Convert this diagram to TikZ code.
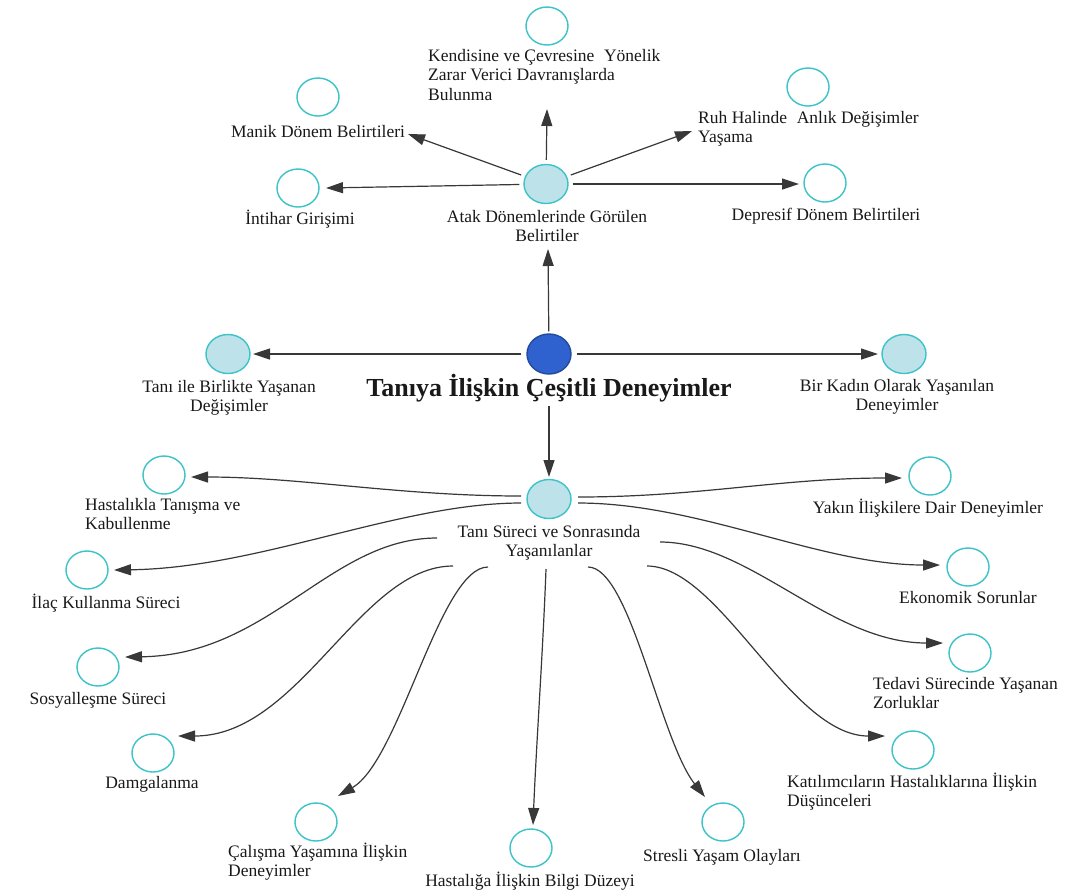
\documentclass[tikz,border=0pt]{standalone}
\usepackage{fontspec}
\setmainfont{Liberation Serif}
\usetikzlibrary{arrows.meta,shapes.geometric}
\definecolor{cyanline}{HTML}{3CC3C8}
\definecolor{lightfill}{HTML}{BEE2EA}
\definecolor{darkfill}{HTML}{2F62CF}
\definecolor{arrowgray}{HTML}{383838}
\newcommand\Lstrut{\rule{0pt}{15pt}}
\newcommand\dsp{\hspace{0.3em}}
\begin{document}
\begin{tikzpicture}[x=1pt,y=-1pt,
  leaf/.style={ellipse, draw=cyanline, line width=1.4pt, fill=white, minimum width=42pt, minimum height=38pt, inner sep=0pt},
  hub/.style={leaf, fill=lightfill, minimum width=44pt, minimum height=39pt},
  core/.style={leaf, fill=darkfill, draw=darkfill!75!black, minimum width=44pt, minimum height=40pt},
  lbl/.style={inner sep=0pt, font=\fontsize{17.5}{19.5}\selectfont, text=black!90, align=center, anchor=north},
  lbll/.style={lbl, align=left, anchor=north west},
  arr/.style={draw=arrowgray, line width=1.2pt, -{Triangle[length=17pt,width=11pt]}},
]
\useasboundingbox[fill=white] (0,0) rectangle (1075,895);

% ---------- circles ----------
\node[core] (C) at (549,354) {};
\node[hub] (A) at (546,184) {};
\node[hub] (TI) at (228,354) {};
\node[hub] (BK) at (904,354) {};
\node[hub] (T) at (549,499) {};

\node[leaf] (K) at (547,26) {};
\node[leaf] (MAN) at (318,97) {};
\node[leaf] (INT) at (298,188) {};
\node[leaf] (RUH) at (808,87) {};
\node[leaf] (DEP) at (825,183) {};

\node[leaf] (HK) at (164,475) {};
\node[leaf] (ILC) at (87,570) {};
\node[leaf] (SOS) at (98,667) {};
\node[leaf] (DAM) at (153,753) {};
\node[leaf] (CAL) at (316,822) {};
\node[leaf] (HSG) at (531,848) {};
\node[leaf] (STR) at (723,822) {};
\node[leaf] (KAT) at (913,750) {};
\node[leaf] (TED) at (970,653) {};
\node[leaf] (EKO) at (968,567) {};
\node[leaf] (YAK) at (930,476) {};

% ---------- labels ----------
\node[lbl, font=\fontsize{26}{29}\selectfont\bfseries, anchor=base] (Clab) at (549,396) {Tanıya İlişkin Çeşitli Deneyimler};
\node[lbl] (Alab) at (547,207) {\Lstrut Atak Dönemlerinde Görülen\\Belirtiler};
\node[lbll] (Klab) at (428,46) {\Lstrut Kendisine ve Çevresine\dsp{} Yönelik\\Zarar Verici Davranışlarda\\Bulunma};
\node[lbl] (MANlab) at (318,122) {\Lstrut Manik Dönem Belirtileri};
\node[lbl] (INTlab) at (300,209) {\Lstrut İntihar Girişimi};
\node[lbll] (RUHlab) at (698,108) {\Lstrut Ruh Halinde\dsp{} Anlık Değişimler\\Yaşama};
\node[lbl] (DEPlab) at (826,205) {\Lstrut Depresif Dönem Belirtileri};
\node[lbl] (TIlab) at (229,377) {\Lstrut Tanı ile Birlikte Yaşanan\\Değişimler};
\node[lbl] (BKlab) at (897,376) {\Lstrut Bir Kadın Olarak Yaşanılan\\Deneyimler};
\node[lbl] (Tlab) at (549,522) {\Lstrut Tanı Süreci ve Sonrasında\\Yaşanılanlar};
\node[lbll] (HKlab) at (85,495) {\Lstrut Hastalıkla Tanışma ve\\Kabullenme};
\node[lbl] (ILClab) at (106,593) {\Lstrut İlaç Kullanma Süreci};
\node[lbl] (SOSlab) at (98,689) {\Lstrut Sosyalleşme Süreci};
\node[lbl] (DAMlab) at (152,773) {\Lstrut Damgalanma};
\node[lbll] (CALlab) at (228,842) {\Lstrut Çalışma Yaşamına İlişkin\\Deneyimler};
\node[lbl] (HSGlab) at (530,871) {\Lstrut Hastalığa İlişkin Bilgi Düzeyi};
\node[lbl] (STRlab) at (722,846) {\Lstrut Stresli Yaşam Olayları};
\node[lbll] (KATlab) at (787,772) {\Lstrut Katılımcıların Hastalıklarına İlişkin\\Düşünceleri};
\node[lbll] (TEDlab) at (873,674) {\Lstrut Tedavi Sürecinde Yaşanan\\Zorluklar};
\node[lbl] (EKOlab) at (968,588) {\Lstrut Ekonomik Sorunlar};
\node[lbl] (YAKlab) at (928,498) {\Lstrut Yakın İlişkilere Dair Deneyimler};

% ---------- arrow end coordinates ----------
\coordinate (tK) at (547,109);
\coordinate (tMAN) at (408,134);
\coordinate (tINT) at (326,188);
\coordinate (tRUH) at (692,131);
\coordinate (tDEP) at (799,184);
\coordinate (tA) at (548,249);
\coordinate (tTI) at (253,354);
\coordinate (tBK) at (878,354);
\coordinate (sT) at (549,406);
\coordinate (tT) at (549,477);

\coordinate (sHK) at (521,496);   \coordinate (tHK) at (191,477);
\coordinate (sILC) at (521,503);  \coordinate (tILC) at (114,570);
\coordinate (sSOS) at (437,538);  \coordinate (tSOS) at (125,657);
\coordinate (sDAM) at (453,566);  \coordinate (tDAM) at (178,736);
\coordinate (sCAL) at (488,567);  \coordinate (tCAL) at (338,796);
\coordinate (sHSG) at (546,569);  \coordinate (tHSG) at (533,825);
\coordinate (sSTR) at (588,567);  \coordinate (tSTR) at (705,797);
\coordinate (sKAT) at (647,566);  \coordinate (tKAT) at (885,736);
\coordinate (sTED) at (660,542);  \coordinate (tTED) at (943,643);
\coordinate (sEKO) at (578,503);  \coordinate (tEKO) at (940,565);
\coordinate (sYAK) at (578,497);  \coordinate (tYAK) at (902,478);

% ---------- straight connectors ----------
\draw[arr, shorten <=4pt] (A) -- (tK);
\draw[arr, shorten <=4pt] (A) -- (tMAN);
\draw[arr, shorten <=4pt] (A) -- (tINT);
\draw[arr, shorten <=4pt] (A) -- (tRUH);
\draw[arr, shorten <=4pt] (A) -- (tDEP);
\draw[arr, shorten <=2pt] (C) -- (tA);
\draw[arr, shorten <=5pt] (C) -- (tTI);
\draw[arr, shorten <=5pt] (C) -- (tBK);
\draw[arr] (sT) -- (tT);

% ---------- curved connectors ----------
\draw[arr] (sHK) .. controls (400,496) and (300,477) .. (tHK);
\draw[arr] (sILC) .. controls (400,503) and (260,568) .. (tILC);
\draw[arr] (sSOS) .. controls (330,538) and (270,655) .. (tSOS);
\draw[arr] (sDAM) .. controls (360,566) and (300,736) .. (tDAM);
\draw[arr] (sCAL) .. controls (440,567) and (400,760) .. (tCAL);
\draw[arr] (sHSG) .. controls (543,650) and (536,750) .. (tHSG);
\draw[arr] (sSTR) .. controls (630,567) and (660,740) .. (tSTR);
\draw[arr] (sKAT) .. controls (720,566) and (790,736) .. (tKAT);
\draw[arr] (sTED) .. controls (750,542) and (830,643) .. (tTED);
\draw[arr] (sEKO) .. controls (700,503) and (820,565) .. (tEKO);
\draw[arr] (sYAK) .. controls (700,497) and (780,478) .. (tYAK);
\end{tikzpicture}
\end{document}
